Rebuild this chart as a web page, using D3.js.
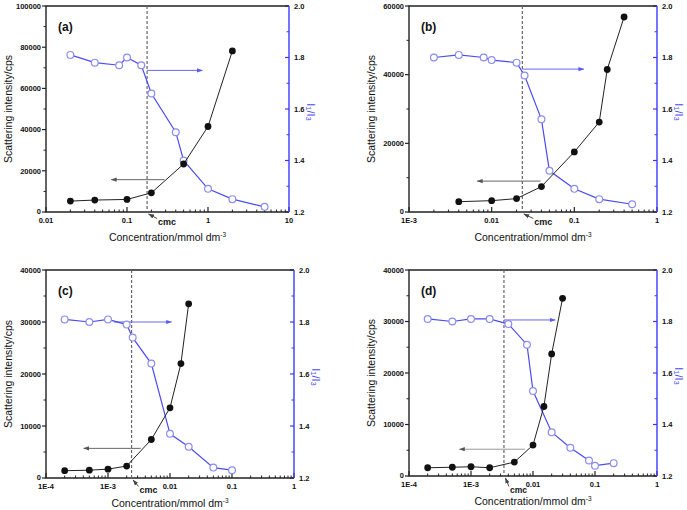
<!DOCTYPE html>
<html><head><meta charset="utf-8">
<script src="https://cdn.jsdelivr.net/npm/d3@7/dist/d3.min.js"></script>
<style>body{margin:0;background:#fff}svg{display:block}text{font-family:"Liberation Sans",Arial,sans-serif}</style>
</head><body>
<script>
// ---- data ----
const aBlackX = [0.02, 0.04, 0.1, 0.2, 0.5, 1, 2];
const aBlackY = [5300, 5800, 6100, 9300, 23300, 41500, 78200];
const aBlueX = [0.02, 0.04, 0.08, 0.1, 0.15, 0.2, 0.4, 0.5, 1, 2, 5];
const aBlueY = [1.81, 1.78, 1.77, 1.80, 1.77, 1.66, 1.51, 1.40, 1.29, 1.25, 1.22];

const bBlackX = [0.004, 0.01, 0.02, 0.04, 0.1, 0.2, 0.25, 0.4];
const bBlackY = [3000, 3300, 3900, 7400, 17500, 26200, 41500, 56800];
const bBlueX = [0.002, 0.004, 0.008, 0.01, 0.02, 0.025, 0.04, 0.05, 0.1, 0.2, 0.5];
const bBlueY = [1.80, 1.81, 1.80, 1.79, 1.78, 1.73, 1.56, 1.36, 1.29, 1.25, 1.23];

const cBlackX = [0.0002, 0.0005, 0.001, 0.002, 0.005, 0.01, 0.015, 0.02];
const cBlackY = [1400, 1500, 1700, 2300, 7400, 13500, 22000, 33500];
const cBlueX = [0.0002, 0.0005, 0.001, 0.002, 0.0025, 0.005, 0.01, 0.02, 0.05, 0.1];
const cBlueY = [1.81, 1.80, 1.81, 1.79, 1.74, 1.64, 1.37, 1.32, 1.24, 1.23];

const dBlackX = [0.0002, 0.0005, 0.001, 0.002, 0.005, 0.01, 0.015, 0.02, 0.03];
const dBlackY = [1600, 1700, 1800, 1600, 2700, 6000, 13500, 23700, 34500];
const dBlueX = [0.0002, 0.0005, 0.001, 0.002, 0.004, 0.008, 0.01, 0.02, 0.04, 0.08, 0.1, 0.2];
const dBlueY = [1.81, 1.80, 1.81, 1.81, 1.79, 1.71, 1.53, 1.37, 1.31, 1.26, 1.24, 1.25];

const cmcValues = [0.177, 0.0235, 0.0024, 0.0034];
const panelLabels = ["(a)", "(b)", "(c)", "(d)"];
const xDomains = [[0.01, 10], [0.001, 1], [0.0001, 1], [0.0001, 1]];
const xTickValsA = [0.01, 0.1, 1, 10];
const xTickLabelsA = ["0.01", "0.1", "1", "10"];
const xTickValsB = [0.001, 0.01, 0.1, 1];
const xTickLabelsB = ["1E-3", "0.01", "0.1", "1"];
const xTickValsCD = [0.0001, 0.001, 0.01, 0.1, 1];
const xTickLabelsCD = ["1E-4", "1E-3", "0.01", "0.1", "1"];
const leftMax = [100000, 60000, 40000, 40000];
const leftTicksA = [0, 20000, 40000, 60000, 80000, 100000];
const leftTicksB = [0, 20000, 40000, 60000];
const leftTicksCD = [0, 10000, 20000, 30000, 40000];
const rightTicks = [1.2, 1.4, 1.6, 1.8, 2.0];
const rightTickLabels = ["1.2", "1.4", "1.6", "1.8", "2.0"];
// arrows: [x from, x to, y value]
const blueArrows = [[0.177, 0.85, 1.75], [0.0235, 0.13, 1.755], [0.00125, 0.0106, 1.80], [0.0034, 0.0228, 1.806]];
const blackArrows = [[0.29, 0.064, 15700], [0.039, 0.0067, 9000], [0.00337, 0.000407, 5700], [0.0074, 0.00065, 5200]];

// ---- layout ----
const W = 687, H = 510;
const boxes = [
  {x0: 46, x1: 289, y0: 6, y1: 212},
  {x0: 409, x1: 657, y0: 6, y1: 212},
  {x0: 46, x1: 294, y0: 270, y1: 478},
  {x0: 409, x1: 657, y0: 270, y1: 476}
];
const cmcDx = [11, 12, 8, 6];
const cmcDy = [13, 13, 15, 17];
const cmcSize = [9, 9, 9, 8.5];
const BLUE = "#4b4bf2", BLUEAX = "#3a3aff", OPEN = "#8c8cf0";

const svg = d3.select("body").append("svg").attr("width", W).attr("height", H);
const defs = svg.append("defs");
function marker(id, color) {
  defs.append("marker").attr("id", id).attr("viewBox", "0 0 10 10").attr("refX", 9).attr("refY", 5)
    .attr("markerWidth", 6).attr("markerHeight", 6).attr("orient", "auto-start-reverse")
    .attr("markerUnits", "userSpaceOnUse")
    .append("path").attr("d", "M0,1.5L10,5L0,8.5Z").attr("fill", color);
}
marker("arB", "#5a5af0"); marker("arK", "#555"); marker("arK2", "#444");

const panels = [
  {bx: aBlackX, by: aBlackY, ux: aBlueX, uy: aBlueY, xt: xTickValsA, xl: xTickLabelsA, lt: leftTicksA, lminor: 10000},
  {bx: bBlackX, by: bBlackY, ux: bBlueX, uy: bBlueY, xt: xTickValsB, xl: xTickLabelsB, lt: leftTicksB, lminor: 10000},
  {bx: cBlackX, by: cBlackY, ux: cBlueX, uy: cBlueY, xt: xTickValsCD, xl: xTickLabelsCD, lt: leftTicksCD, lminor: 5000},
  {bx: dBlackX, by: dBlackY, ux: dBlueX, uy: dBlueY, xt: xTickValsCD, xl: xTickLabelsCD, lt: leftTicksCD, lminor: 5000}
];

panels.forEach((p, i) => {
  const b = boxes[i];
  const g = svg.append("g");
  const x = d3.scaleLog().domain(xDomains[i]).range([b.x0, b.x1]);
  const yL = d3.scaleLinear().domain([0, leftMax[i]]).range([b.y1, b.y0]);
  const yR = d3.scaleLinear().domain([1.2, 2.0]).range([b.y1, b.y0]);

  // x ticks (inward)
  const [d0, d1] = xDomains[i];
  const minors = [];
  for (let e = Math.round(Math.log10(d0)); e < Math.round(Math.log10(d1)); e++)
    for (let k = 2; k <= 9; k++) minors.push(k * Math.pow(10, e));
  g.selectAll(".xmin").data(minors).join("line")
    .attr("x1", d => x(d)).attr("x2", d => x(d)).attr("y1", b.y1).attr("y2", b.y1 - 2.5)
    .attr("stroke", "#222").attr("stroke-width", 1);
  g.selectAll(".xmaj").data(p.xt).join("line")
    .attr("x1", d => x(d)).attr("x2", d => x(d)).attr("y1", b.y1).attr("y2", b.y1 - 5)
    .attr("stroke", "#222").attr("stroke-width", 1.2);
  g.selectAll(".xlab").data(p.xt).join("text")
    .attr("x", d => x(d)).attr("y", b.y1 + 10.5).attr("text-anchor", "middle")
    .attr("font-size", 7.5).attr("font-weight", "bold").attr("fill", "#111")
    .text((d, j) => p.xl[j]);

  // left ticks (outward)
  const lmin = d3.range(0, leftMax[i] + 1, p.lminor).filter(v => p.lt.indexOf(v) < 0);
  g.selectAll(".lmin").data(lmin).join("line")
    .attr("x1", b.x0).attr("x2", b.x0 - 2.5).attr("y1", d => yL(d)).attr("y2", d => yL(d))
    .attr("stroke", "#222").attr("stroke-width", 1);
  g.selectAll(".lmaj").data(p.lt).join("line")
    .attr("x1", b.x0).attr("x2", b.x0 - 4).attr("y1", d => yL(d)).attr("y2", d => yL(d))
    .attr("stroke", "#222").attr("stroke-width", 1.2);
  g.selectAll(".llab").data(p.lt).join("text")
    .attr("x", b.x0 - 5).attr("y", d => yL(d) + (d === 0 ? 1.5 : 2.8)).attr("text-anchor", "end")
    .attr("font-size", 7.5).attr("font-weight", "bold").attr("fill", "#111")
    .text(d => d3.format("d")(d));

  // right ticks (inward)
  const rmin = [1.3, 1.5, 1.7, 1.9];
  g.selectAll(".rmin").data(rmin).join("line")
    .attr("x1", b.x1).attr("x2", b.x1 - 2.5).attr("y1", d => yR(d)).attr("y2", d => yR(d))
    .attr("stroke", BLUEAX).attr("stroke-width", 1);
  g.selectAll(".rmaj").data(rightTicks).join("line")
    .attr("x1", b.x1).attr("x2", b.x1 - 4).attr("y1", d => yR(d)).attr("y2", d => yR(d))
    .attr("stroke", BLUEAX).attr("stroke-width", 1.2);
  g.selectAll(".rlab").data(rightTicks).join("text")
    .attr("x", b.x1 + 5).attr("y", d => yR(d) + 2.8).attr("text-anchor", "start")
    .attr("font-size", 7.5).attr("font-weight", "bold").attr("fill", "#111")
    .text((d, j) => rightTickLabels[j]);

  // frame
  g.append("path").attr("d", `M${b.x1},${b.y0}H${b.x0}V${b.y1}H${b.x1}`)
    .attr("fill", "none").attr("stroke", "#222").attr("stroke-width", 1.4);
  g.append("line").attr("x1", b.x1).attr("x2", b.x1).attr("y1", b.y0).attr("y2", b.y1)
    .attr("stroke", BLUEAX).attr("stroke-width", 1.4);

  // cmc dashed line
  const xc = x(cmcValues[i]);
  g.append("line").attr("x1", xc).attr("x2", xc).attr("y1", b.y0).attr("y2", b.y1)
    .attr("stroke", "#666").attr("stroke-width", 1.2).attr("stroke-dasharray", "3,2");
  g.append("line").attr("x1", xc + cmcDx[i] - 1).attr("y1", b.y1 + cmcDy[i] - 6.5)
    .attr("x2", xc + 1.5).attr("y2", b.y1 + 2)
    .attr("stroke", "#333").attr("stroke-width", 0.9).attr("marker-end", "url(#arK2)");
  g.append("text").attr("x", xc + cmcDx[i]).attr("y", b.y1 + cmcDy[i]).attr("font-size", cmcSize[i])
    .attr("font-weight", "bold").attr("fill", "#111").text("cmc");

  // arrows
  const ba = blueArrows[i];
  g.append("line").attr("x1", x(ba[0])).attr("x2", x(ba[1])).attr("y1", yR(ba[2])).attr("y2", yR(ba[2]))
    .attr("stroke", "#6666f0").attr("stroke-width", 1).attr("marker-end", "url(#arB)");
  const ka = blackArrows[i];
  g.append("line").attr("x1", x(ka[0])).attr("x2", x(ka[1])).attr("y1", yL(ka[2])).attr("y2", yL(ka[2]))
    .attr("stroke", i === 3 ? "#999" : "#666").attr("stroke-width", 1).attr("marker-end", "url(#arK)");

  // blue series
  const blue = p.ux.map((v, j) => [v, p.uy[j]]);
  g.append("path").datum(blue).attr("fill", "none").attr("stroke", BLUE).attr("stroke-width", 1.2)
    .attr("d", d3.line().x(d => x(d[0])).y(d => yR(d[1])));
  g.selectAll(".bo").data(blue).join("circle")
    .attr("cx", d => x(d[0])).attr("cy", d => yR(d[1])).attr("r", 3.4)
    .attr("fill", "#fff").attr("stroke", OPEN).attr("stroke-width", 1.2);

  // black series
  const blk = p.bx.map((v, j) => [v, p.by[j]]);
  g.append("path").datum(blk).attr("fill", "none").attr("stroke", "#222").attr("stroke-width", 1)
    .attr("d", d3.line().x(d => x(d[0])).y(d => yL(d[1])));
  g.selectAll(".bk").data(blk).join("circle")
    .attr("cx", d => x(d[0])).attr("cy", d => yL(d[1])).attr("r", 3.4).attr("fill", "#111");

  // labels
  g.append("text").attr("x", b.x0 + 12).attr("y", b.y0 + 25).attr("font-size", 12)
    .attr("font-weight", "bold").attr("fill", "#111").text(panelLabels[i]);
  const cy = (b.y0 + b.y1) / 2;
  g.append("text").attr("transform", `translate(${b.x0 - 38},${cy}) rotate(-90)`)
    .attr("text-anchor", "middle").attr("dominant-baseline", "central").attr("font-size", 10.5)
    .attr("fill", "#111").text("Scattering intensity/cps");
  const rt = g.append("text").attr("transform", `translate(${b.x1 + 22},${cy + 3}) rotate(90)`)
    .attr("text-anchor", "middle").attr("dominant-baseline", "central").attr("font-size", 11)
    .attr("fill", BLUE);
  rt.append("tspan").text("I");
  rt.append("tspan").attr("font-size", 7.5).attr("dy", 2).text("1");
  rt.append("tspan").attr("dy", -2).text("/I");
  rt.append("tspan").attr("font-size", 7.5).attr("dy", 2).text("3");
  const xt = g.append("text").attr("x", (b.x0 + b.x1) / 2).attr("y", b.y1 + 29)
    .attr("text-anchor", "middle").attr("font-size", 10.5).attr("fill", "#111");
  xt.append("tspan").text("Concentration/mmol dm");
  xt.append("tspan").attr("font-size", 6.5).attr("dy", -4.5).text("-3");
});
</script>
</body></html>
